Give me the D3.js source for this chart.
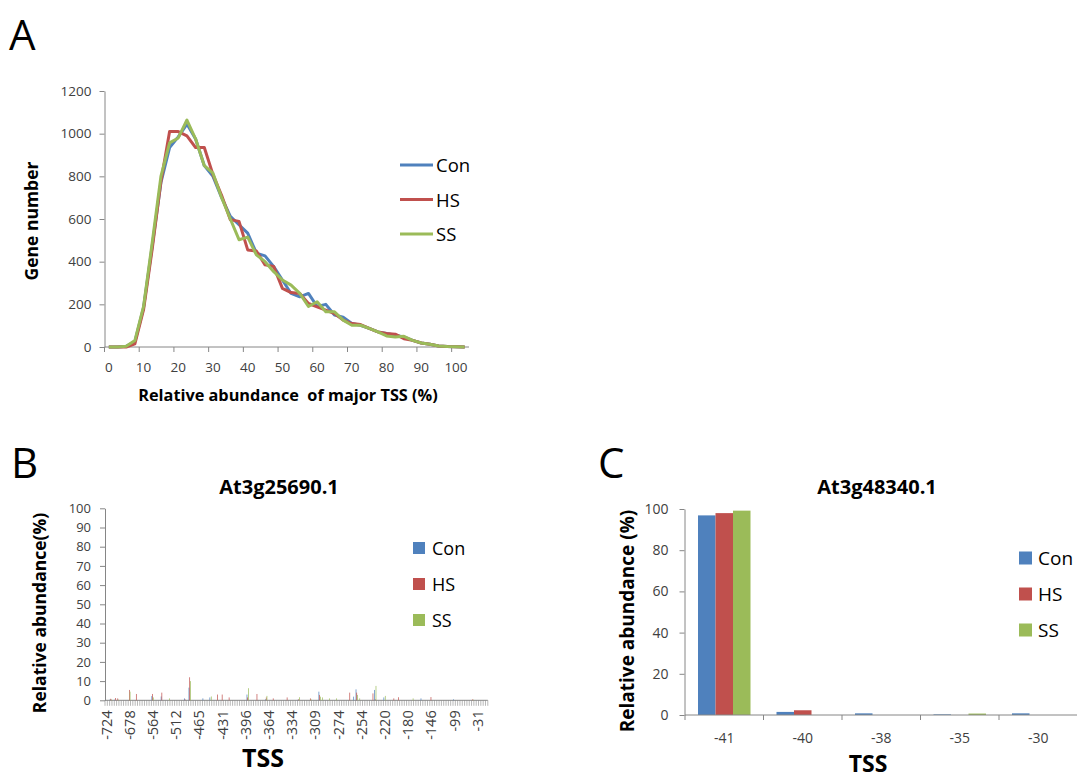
<!DOCTYPE html>
<html><head><meta charset="utf-8">
<script src="https://cdn.jsdelivr.net/npm/d3@7"></script>
<style>
body{margin:0;background:#fff;}
svg text{font-family:"Open Sans","Noto Sans",sans-serif;}
</style>
</head><body>
<svg id="chart" width="1077" height="778"></svg>
<script>
// ---------- shared ----------
const seriesNames = ["Con", "HS", "SS"];
const seriesColors = ["#4F81BD", "#C0504D", "#9BBB59"];

// ---------- Panel A data ----------
const abundancePct = [0,2.5,5,7.5,10,12.5,15,17.5,20,22.5,25,27.5,30,32.5,35,37.5,40,42.5,45,47.5,50,
  52.5,55,57.5,60,62.5,65,67.5,70,72.5,75,77.5,80,82.5,85,87.5,90,92.5,95,97.5,100,102.5];
const conGenes = [0,0,3,25,185,475,770,935,985,1045,975,850,800,700,612,573,534,440,427,377,314,
  251,235,251,190,200,150,140,110,102,87,71,63,55,47,31,19,13,5,2,1,0];
const hsGenes  = [0,0,0,15,175,460,775,1010,1010,990,935,935,808,710,597,589,455,450,385,377,275,
  255,251,204,188,173,157,126,110,105,87,71,63,60,39,31,19,13,5,2,1,0];
const ssGenes  = [0,0,3,30,190,490,800,957,980,1064,975,850,815,700,600,503,515,432,400,353,314,
  290,251,190,212,165,165,126,102,102,87,71,52,47,50,31,19,13,5,2,1,0];
const aXTickLabels = [0,10,20,30,40,50,60,70,80,90,100];
const aYTicks = [0,200,400,600,800,1000,1200];

// ---------- Panel B data ----------
const bTitle = "At3g25690.1";
const bCategoryCount = 165;
const bTickLabels = ["-724","-678","-564","-512","-465","-431","-396","-364","-334","-309",
  "-274","-254","-220","-180","-146","-99","-31"];
const bBarIndex = [2,4,5,10,13,20,24,27,34,36,42,45,48,50,53,61,65,69,72,78,83,88,92,93,96,99,
  105,107,108,109,115,116,120,124,126,132,136,140,150,158];
const bCon = [0.5,0.3,0,0,0,2.2,2.0,0,1.0,6.6,1.0,1.5,0,0,0,3.0,0,0.5,0,0,0.3,0,4.5,0,0,0,
  0,1.9,5.7,0,0,5.4,1.5,0,0,0,1.0,0,0.5,0];
const bHS  = [0.8,1.2,1.0,5.4,3.3,3.3,4.0,0,0.5,12,0,0,3.0,3.0,1.5,1.5,3.3,1.5,1.0,1.5,0.5,1.0,2.8,0,0,0,
  4.0,0,4.0,0,3.6,0.5,0,1.0,1.6,0,0,1.7,0,0.5];
const bSS  = [0.4,0,0.3,4.5,0,1.5,0,1.0,0,10,0,2.0,0,0,0,6.3,0,2.3,0,0,1.6,0.5,1.9,1.5,1.0,1.0,
  0,0,2.8,1.0,0,7.5,2.3,0,0,1.0,0,0,0,0.3];
const bYTicks = [0,10,20,30,40,50,60,70,80,90,100];

// ---------- Panel C data ----------
const cTitle = "At3g48340.1";
const cTss = ["-41","-40","-38","-35","-30"];
const cCon = [96.9,1.5,0.8,0.3,0.8];
const cHS  = [98.0,2.3,0,0,0];
const cSS  = [99.2,0,0,0.7,0];
const cYTicks = [0,20,40,60,80,100];

// ---------- drawing ----------
const svg = d3.select("#chart");
const axisGray = "#868686";
const labelColor = "#404040";

function styleAxis(g, fontSize){
  g.select(".domain").attr("stroke", axisGray);
  g.selectAll(".tick line").attr("stroke", axisGray);
  g.selectAll(".tick text").attr("fill", labelColor).style("font-size", fontSize + "px")
    .style("font-family", '"Open Sans","Noto Sans",sans-serif');
}

// ===== Panel A =====
svg.append("text").attr("x", 9).attr("y", 50).style("font-size", "42px").text("A");

const xA = d3.scaleBand().domain(d3.range(abundancePct.length)).range([104.5, 469]);
const yA = d3.scaleLinear().domain([0, 1200]).range([347, 91]);
const gA = svg.append("g");

const yAxisA = gA.append("g").attr("transform", "translate(104.5,0)")
  .call(d3.axisLeft(yA).tickValues(aYTicks).tickFormat(d3.format("d")).tickSize(5).tickSizeOuter(0).tickPadding(8));
styleAxis(yAxisA, 13.5);

// x axis (category style)
gA.append("line").attr("x1", xA.range()[0]).attr("x2", xA.range()[1])
  .attr("y1", yA(0)).attr("y2", yA(0)).attr("stroke", axisGray);
const aLabelIdx = aXTickLabels.map(v => abundancePct.indexOf(v));
gA.selectAll(".atick").data(aLabelIdx).join("line")
  .attr("x1", i => xA(i)).attr("x2", i => xA(i))
  .attr("y1", yA(0)).attr("y2", yA(0) + 5).attr("stroke", axisGray);
gA.selectAll(".alab").data(aXTickLabels).join("text")
  .attr("x", v => xA(abundancePct.indexOf(v)) + xA.bandwidth() / 2)
  .attr("y", yA(0) + 25).attr("text-anchor", "middle")
  .attr("fill", labelColor).style("font-size", "13.5px").text(v => v);

const lineA = d3.line().x((d, i) => xA(i) + xA.bandwidth() / 2).y(d => yA(d));
[conGenes, hsGenes, ssGenes].forEach((s, k) => {
  gA.append("path").datum(s).attr("d", lineA).attr("fill", "none")
    .attr("stroke", seriesColors[k]).attr("stroke-width", 3).attr("stroke-linejoin", "round");
});

gA.append("text").attr("x", 288).attr("y", 401).attr("text-anchor", "middle")
  .style("white-space", "pre")
  .style("font-size", "16.3px").style("font-weight", "bold").text("Relative abundance  of major TSS (%)");
gA.append("text").attr("transform", "translate(38,221) rotate(-90)").attr("text-anchor", "middle")
  .style("font-size", "17.5px").style("font-weight", "bold").text("Gene number");

seriesNames.forEach((n, k) => {
  const y = 165 + k * 34.5;
  gA.append("line").attr("x1", 400).attr("x2", 433).attr("y1", y).attr("y2", y)
    .attr("stroke", seriesColors[k]).attr("stroke-width", 3);
  gA.append("text").attr("x", 436).attr("y", y + 7).style("font-size", "18.5px").attr("fill", "#000").text(n);
});

// ===== Panel B =====
svg.append("text").attr("x", 11).attr("y", 478).style("font-size", "42px").text("B");
const xB = d3.scaleBand().domain(d3.range(bCategoryCount)).range([105, 487.8]);
const yB = d3.scaleLinear().domain([0, 100]).range([700.3, 508.3]);
const gB = svg.append("g");

svg.append("text").attr("x", 279).attr("y", 494).attr("text-anchor", "middle")
  .style("font-size", "20px").style("font-weight", "bold").text(bTitle);

const yAxisB = gB.append("g").attr("transform", "translate(105,0)")
  .call(d3.axisLeft(yB).tickValues(bYTicks).tickSize(5).tickSizeOuter(0).tickPadding(9));
styleAxis(yAxisB, 13);

gB.append("line").attr("x1", xB.range()[0]).attr("x2", xB.range()[1])
  .attr("y1", yB(0)).attr("y2", yB(0)).attr("stroke", axisGray);
gB.selectAll(".btick").data(d3.range(bCategoryCount + 1)).join("line")
  .attr("x1", i => i < bCategoryCount ? xB(i) : xB.range()[1])
  .attr("x2", i => i < bCategoryCount ? xB(i) : xB.range()[1])
  .attr("y1", yB(0)).attr("y2", yB(0) + 5.5).attr("stroke", axisGray).attr("stroke-width", 0.6);
gB.selectAll(".blab").data(bTickLabels).join("text")
  .attr("transform", (d, k) => `translate(${xB(k * 10) + xB.bandwidth() / 2},${yB(0) + 10}) rotate(-90)`)
  .attr("text-anchor", "end").attr("dominant-baseline", "central")
  .attr("fill", labelColor).style("font-size", "14.5px").text(d => d);

const subB = d3.scaleBand().domain(seriesNames).range([0, xB.bandwidth()]).paddingOuter(0.15);
const bRows = bBarIndex.map((idx, j) => ({idx, vals: [bCon[j], bHS[j], bSS[j]]}));
bRows.forEach(r => {
  r.vals.forEach((v, k) => {
    if (v <= 0) return;
    gB.append("rect").attr("x", xB(r.idx) + subB(seriesNames[k])).attr("width", subB.bandwidth())
      .attr("y", yB(v)).attr("height", yB(0) - yB(v)).attr("fill", seriesColors[k]);
  });
});

gB.append("text").attr("transform", "translate(46,613) rotate(-90)").attr("text-anchor", "middle")
  .style("font-size", "17.5px").style("font-weight", "bold").text("Relative abundance(%)");
gB.append("text").attr("x", 263).attr("y", 767).attr("text-anchor", "middle")
  .style("font-size", "25px").style("font-weight", "bold").text("TSS");

seriesNames.forEach((n, k) => {
  const y = 548 + k * 36;
  gB.append("rect").attr("x", 413).attr("y", y - 6).attr("width", 12).attr("height", 12).attr("fill", seriesColors[k]);
  gB.append("text").attr("x", 432).attr("y", y + 6.5).style("font-size", "18px").text(n);
});

// ===== Panel C =====
svg.append("text").attr("x", 598).attr("y", 478).style("font-size", "42px").text("C");
const xC = d3.scaleBand().domain(cTss).range([685, 1077.5]);
const yC = d3.scaleLinear().domain([0, 100]).range([715, 509]);
const subC = d3.scaleBand().domain(seriesNames).range([0, xC.bandwidth()]).paddingOuter(0.743);
const gC = svg.append("g");

svg.append("text").attr("x", 877).attr("y", 494).attr("text-anchor", "middle")
  .style("font-size", "20px").style("font-weight", "bold").text(cTitle);

const yAxisC = gC.append("g").attr("transform", "translate(684.5,0)")
  .call(d3.axisLeft(yC).tickValues(cYTicks).tickSize(5).tickSizeOuter(0).tickPadding(11));
styleAxis(yAxisC, 14);

const cRows = cTss.map((t, j) => ({t, vals: [cCon[j], cHS[j], cSS[j]]}));
cRows.forEach(r => {
  r.vals.forEach((v, k) => {
    if (v <= 0) return;
    gC.append("rect").attr("x", xC(r.t) + subC(seriesNames[k])).attr("width", subC.bandwidth())
      .attr("y", yC(v)).attr("height", yC(0) - yC(v)).attr("fill", seriesColors[k]);
  });
});

gC.append("line").attr("x1", xC.range()[0]).attr("x2", xC.range()[1])
  .attr("y1", yC(0)).attr("y2", yC(0)).attr("stroke", axisGray);
gC.selectAll(".ctick").data(cTss).join("line")
  .attr("x1", t => xC(t)).attr("x2", t => xC(t))
  .attr("y1", yC(0)).attr("y2", yC(0) + 5).attr("stroke", axisGray);
gC.selectAll(".clab").data(cTss).join("text")
  .attr("x", t => xC(t) + xC.bandwidth() / 2).attr("y", yC(0) + 28).attr("text-anchor", "middle")
  .attr("fill", labelColor).style("font-size", "14px").text(t => t);

gC.append("text").attr("transform", "translate(634,621) rotate(-90)").attr("text-anchor", "middle")
  .style("font-size", "19px").style("font-weight", "bold").text("Relative abundance (%)");
gC.append("text").attr("x", 868).attr("y", 772).attr("text-anchor", "middle")
  .style("font-size", "23px").style("font-weight", "bold").text("TSS");

seriesNames.forEach((n, k) => {
  const y = 558 + k * 36;
  gC.append("rect").attr("x", 1019).attr("y", y - 6.5).attr("width", 13).attr("height", 13).attr("fill", seriesColors[k]);
  gC.append("text").attr("x", 1038).attr("y", y + 7).style("font-size", "19px").text(n);
});
</script>
</body></html>
